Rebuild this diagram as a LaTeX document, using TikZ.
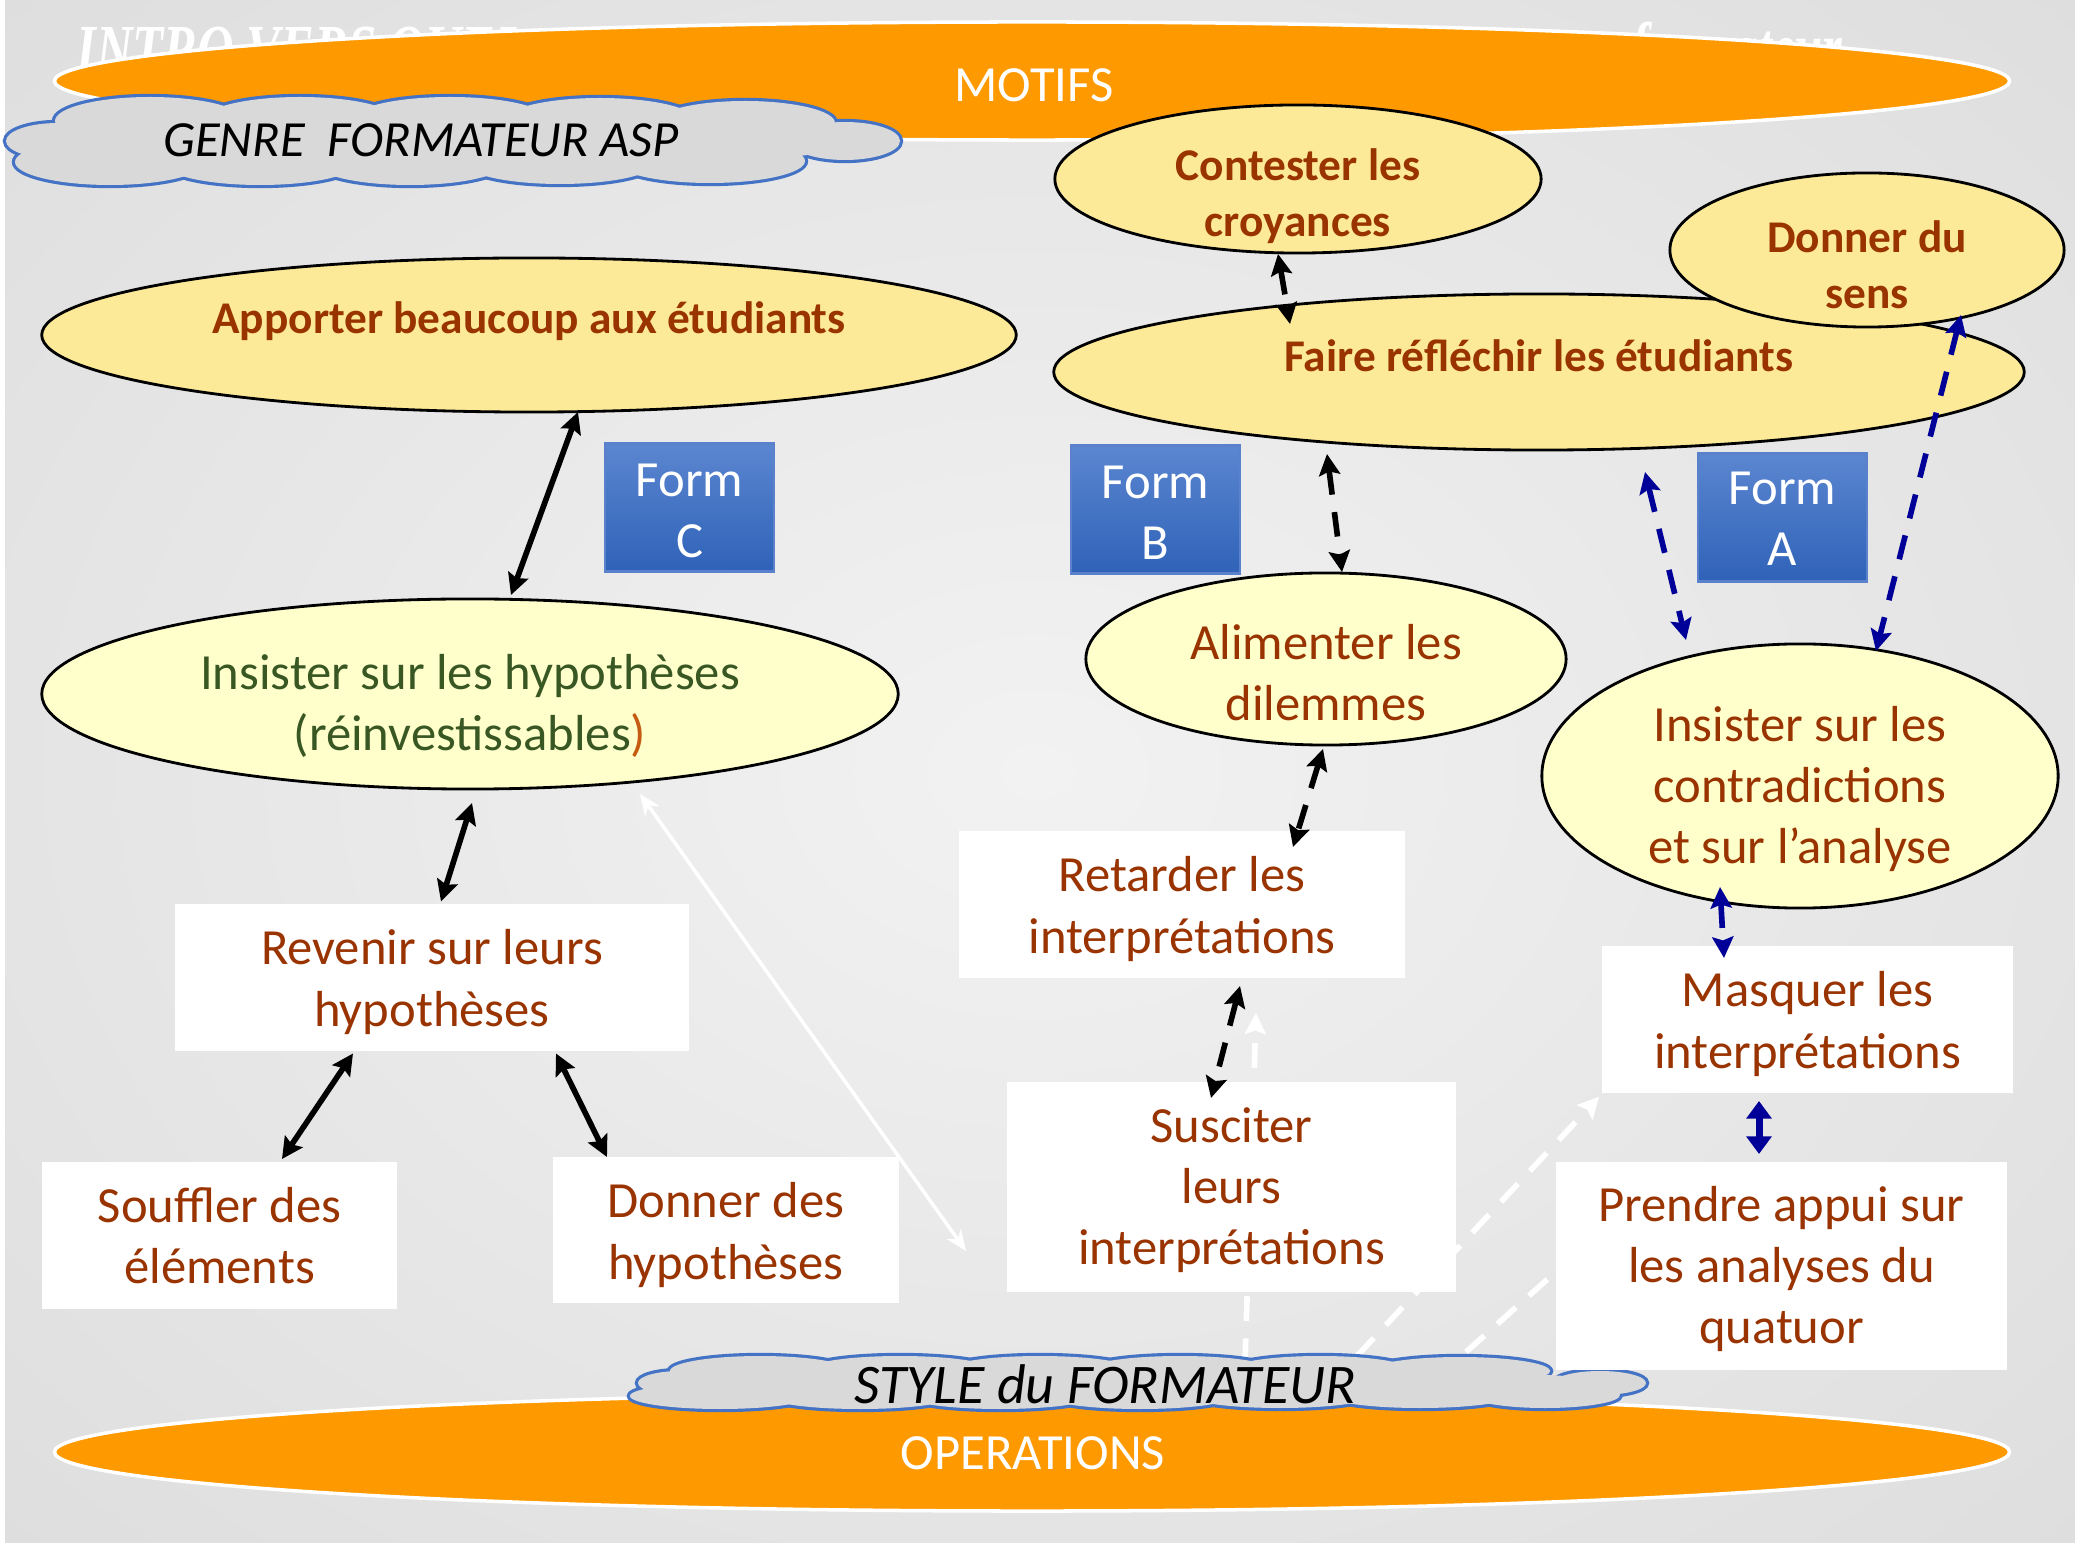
\documentclass[tikz,border=0pt]{standalone}
\usepackage{fontspec}
\setmainfont{Carlito}
\newfontfamily\introserif{Liberation Serif}
\usetikzlibrary{shapes.geometric,arrows.meta,calc}
\pgfdeclarelayer{bg}
\pgfdeclarelayer{behind}
\pgfsetlayers{bg,behind,main}
\definecolor{bgin}{HTML}{F2F2F2}
\definecolor{bgout}{HTML}{CACACA}
\definecolor{orng}{HTML}{FF9900}
\definecolor{brn}{HTML}{993300}
\definecolor{grn}{HTML}{385723}
\definecolor{paren}{HTML}{C55A11}
\definecolor{yel}{RGB}{253,234,152}
\definecolor{lyel}{HTML}{FFFFCC}
\definecolor{navy}{HTML}{000099}
\definecolor{cldfill}{HTML}{D9D9D9}
\definecolor{cldline}{HTML}{4472C4}
\definecolor{formtop}{HTML}{5B86D0}
\definecolor{formbot}{HTML}{2F62B8}
\definecolor{formline}{HTML}{5A82CC}
\pgfdeclareradialshading{bgshade}{\pgfpoint{0bp}{0bp}}{color(0bp)=(bgin); color(71bp)=(bgout)}
\newcommand\myreg{\fontsize{14.4}{17.4}\selectfont}
\newcommand\mybold{\fontsize{12.9}{15.8}\selectfont\bfseries}
\begin{document}
\begin{tikzpicture}[x=0.01cm,y=-0.01cm,
  introtext/.style={text=white, anchor=base west, xscale=0.72, inner sep=0pt,
    font=\introserif\fontsize{20}{20}\selectfont\bfseries\itshape},
  orangeell/.style={ellipse, fill=orng, draw=white, line width=1pt, inner sep=0pt,
    minimum width=19.54cm, minimum height=1.18cm},
  wtext/.style={text=white, font=\myreg, inner sep=0pt},
  cloudtext/.style={font=\myreg\itshape, text=black, inner sep=0pt},
  ell1/.style={ellipse, fill=yel, draw=black, line width=0.8pt, inner sep=0pt},
  ell2/.style={ellipse, fill=lyel, draw=black, line width=0.8pt, inner sep=0pt},
  tb/.style={font=\mybold, text=brn, align=center, inner sep=0pt},
  tr/.style={font=\myreg, text=brn, align=center, inner sep=0pt},
  tw/.style={font=\myreg, text=white, align=center, inner sep=0pt},
  wbox/.style={rectangle, fill=white, inner sep=0pt},
  formbox/.style={rectangle, top color=formtop, bottom color=formbot, draw=formline, line width=0.8pt,
    inner sep=0pt, minimum width=1.69cm, minimum height=1.28cm},
  blk/.style={black, line width=1.6pt, {Stealth[length=6pt,width=6pt,inset=1pt]}-{Stealth[length=6pt,width=6pt,inset=1pt]}},
  blkd/.style={blk, dash pattern=on 7pt off 5pt},
  nvyd/.style={navy, line width=1.6pt, dash pattern=on 7pt off 5pt, {Stealth[length=6pt,width=6pt,inset=1pt]}-{Stealth[length=6pt,width=6pt,inset=1pt]}},
  nvys/.style={navy, line width=2pt, {Triangle[length=5pt,width=7pt]}-{Triangle[length=5pt,width=7pt]}},
  wht/.style={white, line width=1pt, {Stealth[length=6pt,width=5pt]}-{Stealth[length=6pt,width=5pt]}},
  whtd/.style={white, line width=1.6pt, dash pattern=on 7pt off 5pt, -{Stealth[length=6pt,width=6pt,inset=1pt]}},
  whtdn/.style={white, line width=1.6pt, dash pattern=on 7pt off 5pt}
]
\useasboundingbox (0,0) rectangle (2075,1543);
\begin{pgfonlayer}{bg}
\shade[shading=bgshade] (0,0) rectangle (2075,1543);
\fill[white] (0,0) rectangle (5,1543);
\end{pgfonlayer}

% title fragments behind the top band
\node[introtext] (intro1) at (76,74) {INTRO VERS QUEL};
\node[introtext] (intro2) at (79,144) {Q};
\node[introtext] (intro3) at (1631,72) {formateur};

% top band
\node[orangeell] (motifs) at (1032,81) {};
\node[wtext] (motifsT) at (1034,85) {MOTIFS};
% cloud "genre": puffs stroked wide, then filled to keep only the outline
\foreach \px/\py/\ra/\rb in {150/121/95/24, 300/119/95/22, 450/118/95/21, 600/120/95/22, 745/123/90/22,
    110/162/95/23, 260/164/95/21, 410/163/95/22, 560/163/95/21, 710/161/95/22,
    58/141/52/18, 845/141/55/19}
  \draw[cldline, line width=1.8pt] (\px,\py) ellipse [x radius=\ra, y radius=\rb];
\foreach \px/\py/\ra/\rb in {150/121/95/24, 300/119/95/22, 450/118/95/21, 600/120/95/22, 745/123/90/22,
    110/162/95/23, 260/164/95/21, 410/163/95/22, 560/163/95/21, 710/161/95/22,
    58/141/52/18, 845/141/55/19}
  \fill[cldfill] (\px,\py) ellipse [x radius=\ra, y radius=\rb];
\fill[cldfill] (453,141) ellipse [x radius=400, y radius=30];
\node[inner sep=0pt] (genre) at (453,141) {};
\node[cloudtext] (genreT) at (421,140) {GENRE\ \ FORMATEUR ASP};

% bottom band
\node[orangeell] (operations) at (1032,1452) {};
\node[wtext] (operationsT) at (1033,1453) {OPERATIONS};
\foreach \px/\py/\ra/\rb in {760/1371/90/15, 900/1369/90/13, 1040/1369/90/13, 1180/1369/90/13, 1320/1370/90/14, 1460/1371/90/14,
    720/1396/90/13, 860/1397/90/12, 1000/1397/90/12, 1140/1397/90/12, 1280/1396/90/12, 1420/1396/90/12, 1545/1395/75/13,
    680/1383/42/12, 1600/1383/46/12}
  \draw[cldline, line width=1.8pt] (\px,\py) ellipse [x radius=\ra, y radius=\rb];
\foreach \px/\py/\ra/\rb in {760/1371/90/15, 900/1369/90/13, 1040/1369/90/13, 1180/1369/90/13, 1320/1370/90/14, 1460/1371/90/14,
    720/1396/90/13, 860/1397/90/12, 1000/1397/90/12, 1140/1397/90/12, 1280/1396/90/12, 1420/1396/90/12, 1545/1395/75/13,
    680/1383/42/12, 1600/1383/46/12}
  \fill[cldfill] (\px,\py) ellipse [x radius=\ra, y radius=\rb];
\fill[cldfill] (1142,1383) ellipse [x radius=470, y radius=16];
\node[inner sep=0pt] (style) at (1142,1383) {};
\node[cloudtext, font=\fontsize{15.9}{18}\selectfont\itshape] (styleT) at (1105,1384) {STYLE du FORMATEUR};

% motive ellipses
\node[ell1, minimum width=9.74cm, minimum height=1.54cm] (apporter) at (529,335) {};
\node[tb] (apporterT) at (529,321) {Apporter beaucoup aux étudiants};
\node[ell1, minimum width=4.86cm, minimum height=1.48cm] (contester) at (1298,179) {};
\node[tb] (contesterT) at (1298,196) {Contester les\\croyances};
\node[ell1, minimum width=9.70cm, minimum height=1.56cm] (faire) at (1539,372) {};
\node[tb] (faireT) at (1539,356) {Faire réfléchir les étudiants};
\node[ell1, minimum width=3.94cm, minimum height=1.54cm] (sens) at (1867,250) {};
\node[tb] (sensT) at (1867,265) {Donner du\\sens};

% intermediate ellipses
\node[ell2, minimum width=8.56cm, minimum height=1.90cm] (insH) at (470,694) {};
\node[tr, text=grn] (insHT) at (470,706) {Insister sur les hypothèses\\(réinvestissables\textcolor{paren}{)}};
\node[ell2, minimum width=4.80cm, minimum height=1.72cm] (alim) at (1326,659) {};
\node[tr] (alimT) at (1326,673) {Alimenter les\\dilemmes};
\node[ell2, minimum width=5.16cm, minimum height=2.64cm] (insC) at (1800,776) {};
\node[tr] (insCT) at (1800,789) {Insister sur les\\contradictions\\et sur l’analyse};

% operation boxes
\node[wbox, minimum width=5.14cm, minimum height=1.47cm] (revenir) at (432,977.5) {};
\node[tr] (revenirT) at (432,982) {Revenir sur leurs\\hypothèses};
\node[wbox, minimum width=3.55cm, minimum height=1.47cm] (souffler) at (219.5,1235.5) {};
\node[tr] (soufflerT) at (219.5,1236) {Souffler des\\éléments};
\node[wbox, minimum width=3.46cm, minimum height=1.46cm] (donnerdes) at (726,1230) {};
\node[tr] (donnerdesT) at (726,1235) {Donner des\\hypothèses};
\node[wbox, minimum width=4.46cm, minimum height=1.47cm] (retarder) at (1182,904.5) {};
\node[tr] (retarderT) at (1182,909) {Retarder les\\interprétations};
\node[wbox, minimum width=4.49cm, minimum height=2.10cm] (susciter) at (1231.5,1187) {};
\node[tr] (susciterT) at (1231.5,1190) {Susciter\\leurs\\interprétations};
\node[wbox, minimum width=4.11cm, minimum height=1.47cm] (masquer) at (1807.5,1019.5) {};
\node[tr] (masquerT) at (1807.5,1024) {Masquer les\\interprétations};
\node[wbox, minimum width=4.51cm, minimum height=2.08cm] (prendre) at (1781.5,1266) {};
\node[tr] (prendreT) at (1781.5,1269) {Prendre appui sur\\les analyses du\\quatuor};

% trainer labels
\node[formbox] (formC) at (689.5,507.5) {};
\node[tw] (formCT) at (689.5,511) {Form\\C};
\node[formbox] (formB) at (1155.5,509.5) {};
\node[tw] (formBT) at (1155.5,513) {Form\\B};
\node[formbox] (formA) at (1782.5,517.5) {};
\node[tw] (formAT) at (1782.5,519) {Form\\A};

% connectors, formateur C
\draw[blk] ($(apporter.center)+(49,77)$) -- ($(insH.center)+(41,-99)$);
\draw[blk] ($(insH.center)+(2,109)$) -- ($(revenir.center)+(9,-76)$);
\draw[blk] ($(revenir.center)+(-79,76)$) -- ($(souffler.center)+(62.5,-76.5)$);
\draw[blk] ($(revenir.center)+(124,76)$) -- ($(donnerdes.center)+(-119,-73)$);
\coordinate (wend) at (966,1251);
\draw[wht] ($(insH.center)+(170,100)$) -- (wend);

% connectors, formateur B
\draw[blkd] ($(contester.center)+(-20,75)$) -- ($(faire.center)+(-249,-48)$);
\draw[blkd] ($(faire.center)+(-212,82)$) -- ($(alim.center)+(16,-87)$);
\draw[blkd] ($(alim.center)+(-3,90)$) -- ($(retarder.center)+(111,-57.5)$);
\draw[blkd] ($(retarder.center)+(58,81.5)$) -- ($(susciter.center)+(-20.5,-89)$);

% connectors, formateur A
\draw[nvyd] ($(faire.center)+(106,100)$) -- ($(insC.center)+(-114,-136)$);
\draw[nvyd] ($(sens.center)+(94,65)$) -- ($(insC.center)+(76,-125)$);
\draw[nvyd] ($(insC.center)+(-80,111)$) -- ($(masquer.center)+(-83.5,-61.5)$);
\draw[nvys] ($(masquer.center)+(-48.5,81.5)$) -- ($(prendre.center)+(-22.5,-112)$);

% white dashed links from the style cloud
\coordinate (wn) at (1256,1013);
\begin{pgfonlayer}{behind}
\draw[whtd] ($(style.center)+(103,-20)$) -- (wn);
\draw[whtd] ($(style.center)+(215,-27)$) -- ($(masquer.south west)+(-2,3)$);
\draw[whtdn] ($(style.center)+(324,-31)$) -- ($(prendre.center)+(-161,-52)$);
\end{pgfonlayer}
\end{tikzpicture}
\end{document}
